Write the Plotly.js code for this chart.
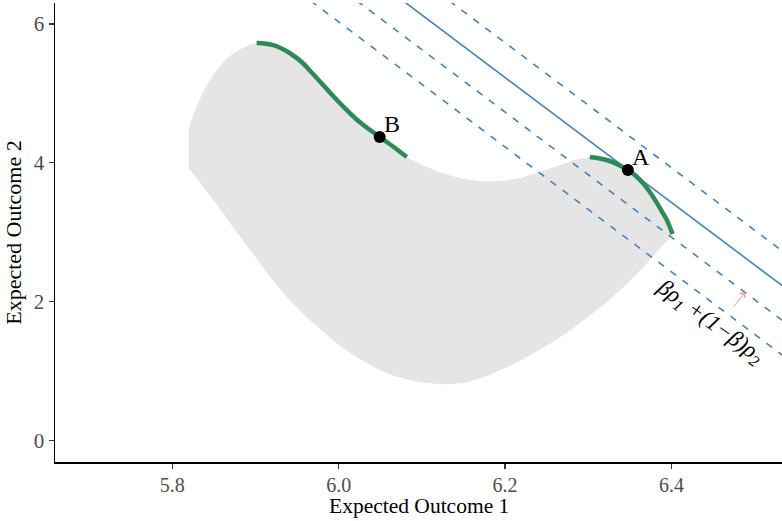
<!DOCTYPE html>
<html>
<head>
<meta charset="utf-8">
<script src="https://cdn.plot.ly/plotly-3.0.1.min.js"></script>
<style>html,body{margin:0;padding:0;background:#fff;}#chart{width:782px;height:521px;}</style>
</head>
<body>
<div id="chart"></div>
<script>
// Gray attainable region boundary (Expected Outcome 1, Expected Outcome 2)
const regionX = [5.8200, 5.8256, 5.8328, 5.8412, 5.8509, 5.8617, 5.8737, 5.8869,
  5.9014, 5.9110, 5.9206, 5.9314, 5.9411, 5.9555, 5.9687, 5.9808, 5.9928, 6.0072, 6.0216, 6.0361, 6.0493, 6.0661, 6.0818,
  6.1034, 6.1239, 6.1455, 6.1695, 6.1936, 6.2177, 6.2417, 6.2658, 6.2838,
  6.3018, 6.3139, 6.3259, 6.3367, 6.3476, 6.3572, 6.3656, 6.3740, 6.3824, 6.3884, 6.3944, 6.3980, 6.4013,
  6.3824, 6.3632, 6.3415, 6.3211, 6.2994, 6.2790, 6.2573, 6.2369, 6.2153, 6.1948, 6.1744, 6.1527, 6.1335,
  6.1118, 6.0902, 6.0685, 6.0469, 6.0252, 6.0036, 5.9832, 5.9627, 5.9411, 5.9194, 5.8990, 5.8773, 5.8569, 5.8388, 5.8200];
const regionY = [4.498, 4.704, 4.906, 5.107, 5.295, 5.453, 5.582, 5.669,
  5.727, 5.719, 5.698, 5.647, 5.582, 5.453, 5.287, 5.129, 4.971, 4.791, 4.625, 4.488, 4.373, 4.229, 4.085,
  3.955, 3.855, 3.783, 3.739, 3.739, 3.783, 3.869, 3.970, 4.042,
  4.085, 4.063, 4.027, 3.970, 3.898, 3.811, 3.711, 3.581, 3.423, 3.300, 3.178, 3.077, 2.976,
  2.717, 2.458, 2.206, 1.983, 1.781, 1.594, 1.421, 1.277, 1.133, 1.018, 0.917, 0.838, 0.812,
  0.824, 0.860, 0.924, 1.032, 1.176, 1.349, 1.551, 1.767, 2.026, 2.328, 2.659, 3.005, 3.343, 3.631, 3.922];

// Green frontier pieces
const frontier1X = [5.9014, 5.9110, 5.9206, 5.9314, 5.9411, 5.9555, 5.9687, 5.9808, 5.9928, 6.0072, 6.0216, 6.0361, 6.0493, 6.0661, 6.0818];
const frontier1Y = [5.727, 5.719, 5.698, 5.647, 5.582, 5.453, 5.287, 5.129, 4.971, 4.791, 4.625, 4.488, 4.373, 4.229, 4.085];
const frontier2X = [6.3018, 6.3139, 6.3259, 6.3367, 6.3476, 6.3572, 6.3656, 6.3740, 6.3824, 6.3884, 6.3944, 6.3980, 6.4013];
const frontier2Y = [4.085, 4.063, 4.027, 3.970, 3.898, 3.811, 3.711, 3.581, 3.423, 3.300, 3.178, 3.077, 2.976];

// Labelled points
const pointLabels = ['A', 'B'];
const pointX = [6.3476, 6.0493];
const pointY = [3.898, 4.373];

// Iso-lines  beta*x + (1-beta)*y = level
const beta = 0.9;
const solidLevel = 6.103;
const dashedLevels = [6.003, 6.053, 6.153];

// Direction arrow (tail -> head)
const arrowTail = [6.4740, 1.920];
const arrowHead = [6.4883, 2.136];

// Axis ticks and titles
const xTicks = [5.8, 6.0, 6.2, 6.4];
const yTicks = [0, 2, 4, 6];
const xTitle = 'Expected Outcome 1';
const yTitle = 'Expected Outcome 2';

const xRange = [5.6591, 6.5328];
const yRange = [-0.307, 6.302];

function isoLine(level) {
  const ys = [7.5, -1.5];
  return { x: ys.map(y => (level - (1 - beta) * y) / beta), y: ys };
}

const blue = '#4682B4';
const green = '#2E8B57';
const traces = [];

traces.push({
  x: regionX, y: regionY, mode: 'lines', fill: 'toself', fillcolor: '#E5E5E5',
  line: { width: 0, color: '#E5E5E5', shape: 'spline', smoothing: 0.5 }, hoverinfo: 'skip'
});

dashedLevels.forEach(l => {
  const p = isoLine(l);
  traces.push({ x: p.x, y: p.y, mode: 'lines', line: { color: blue, width: 1.6, dash: '7px,8px' }, hoverinfo: 'skip' });
});
{
  const p = isoLine(solidLevel);
  traces.push({ x: p.x, y: p.y, mode: 'lines', line: { color: blue, width: 1.6 }, hoverinfo: 'skip' });
}

traces.push({ x: frontier1X, y: frontier1Y, mode: 'lines', line: { color: green, width: 4.5, shape: 'spline', smoothing: 1 }, hoverinfo: 'skip' });
traces.push({ x: frontier2X, y: frontier2Y, mode: 'lines', line: { color: green, width: 4.5, shape: 'spline', smoothing: 1 }, hoverinfo: 'skip' });

traces.push({ x: pointX, y: pointY, mode: 'markers', marker: { color: '#000', size: 12 }, hoverinfo: 'skip' });

const font = 'Liberation Serif, Times New Roman, serif';

const annotations = pointLabels.map((t, i) => ({
  x: pointX[i], y: pointY[i], text: t, showarrow: false, xanchor: 'left', yanchor: 'bottom',
  xshift: 2, yshift: -2, font: { family: font, size: 24, color: '#000' }
}));

annotations.push({
  x: 6.4462, y: 1.709, xref: 'x', yref: 'y', showarrow: false, textangle: 36,
  text: '<i>βρ<sub>1</sub> +(1−β)ρ<sub>2</sub></i>',
  font: { family: font, size: 23, color: '#000' }
});

annotations.push({
  x: arrowHead[0], y: arrowHead[1], ax: arrowTail[0], ay: arrowTail[1], axref: 'x', ayref: 'y', xref: 'x', yref: 'y',
  showarrow: true, arrowhead: 4, arrowsize: 1.3, arrowwidth: 1, arrowcolor: '#F0A0A0',
  text: '', font: { size: 1 }, borderpad: 0, standoff: 0, startstandoff: 0
});

// x-axis title placed just under the tick labels
annotations.push({
  x: 0.5, y: 0, xref: 'paper', yref: 'paper', xanchor: 'center', yanchor: 'top', yshift: -31,
  showarrow: false, borderpad: 0, text: xTitle, font: { family: font, size: 21.5, color: '#000' }
});

const layout = {
  width: 782, height: 521,
  margin: { l: 55, r: 0, t: 3, b: 59 },
  paper_bgcolor: '#fff', plot_bgcolor: '#fff',
  showlegend: false,
  xaxis: {
    range: xRange, tickvals: xTicks, ticktext: xTicks.map(v => v.toFixed(1)),
    showgrid: false, zeroline: false, showline: true, linecolor: '#000', linewidth: 1.5,
    ticks: 'outside', ticklen: 5, tickcolor: '#333', tickwidth: 1.2, ticklabelstandoff: -1,
    tickfont: { family: font, size: 20, color: '#4D4D4D' }
  },
  yaxis: {
    range: yRange, tickvals: yTicks, ticktext: yTicks.map(String),
    showgrid: false, zeroline: false, showline: true, linecolor: '#000', linewidth: 1.5,
    ticks: 'outside', ticklen: 5, tickcolor: '#333', tickwidth: 1.2,
    tickfont: { family: font, size: 21, color: '#4D4D4D' },
    title: { text: yTitle, font: { family: font, size: 22, color: '#000' }, standoff: 6 }
  },
  annotations: annotations
};

Plotly.newPlot('chart', traces, layout, { staticPlot: true, displayModeBar: false });
</script>
</body>
</html>
